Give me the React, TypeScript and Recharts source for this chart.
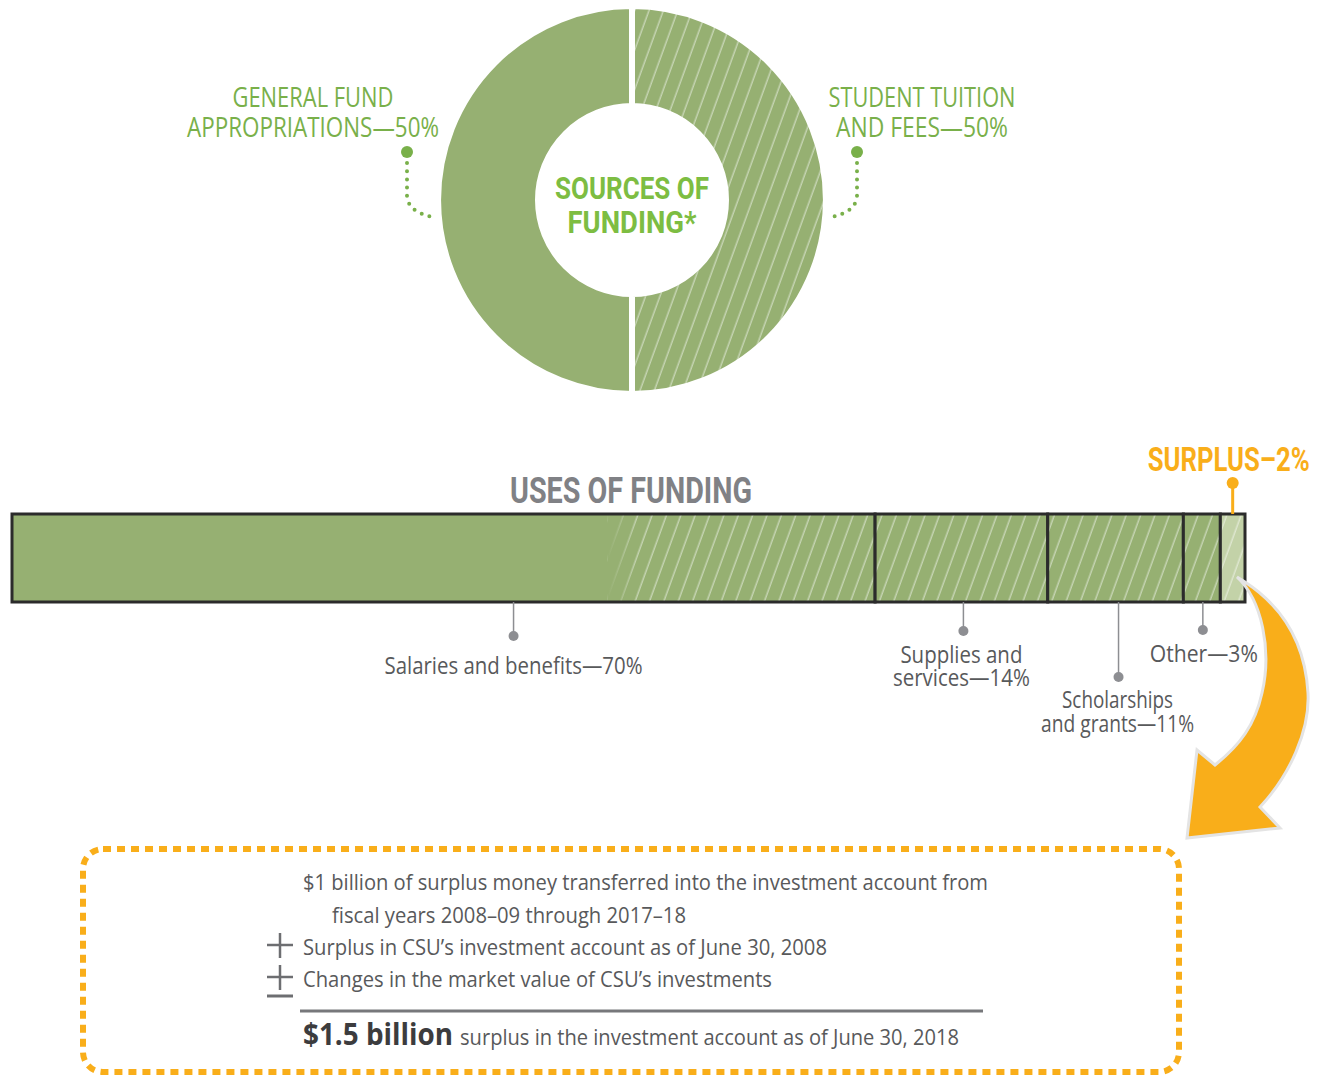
import React from 'react';
import { PieChart, Pie, Cell, BarChart, Bar, XAxis, YAxis, LabelList } from 'recharts';

// ---------- data ----------
const sourceNames = ['General Fund Appropriations', 'Student Tuition and Fees'];
const sourceValues = [50, 50];
const sourceLabelLines = [
  ['GENERAL FUND', 'APPROPRIATIONS'],
  ['STUDENT TUITION', 'AND FEES'],
];

const useNames = ['Salaries and benefits', 'Supplies and services', 'Scholarships and grants', 'Other', 'Surplus'];
const useValues = [70, 14, 11, 3, 2];
const useLabelLines = [
  ['Salaries and benefits'],
  ['Supplies and', 'services'],
  ['Scholarships', 'and grants'],
  ['Other'],
  ['SURPLUS'],
];

const boxLines = [
  '$1 billion of surplus money transferred into the investment account from',
  'fiscal years 2008–09 through 2017–18',
  'Surplus in CSU’s investment account as of June 30, 2008',
  'Changes in the market value of CSU’s investments',
];
const totalAmount = '$1.5 billion';
const totalText = 'surplus in the investment account as of June 30, 2018';

// ---------- styles ----------
const W = 1321;
const H = 1076;
const GREEN = '#96B072';
const LIGHT_GREEN = '#C3D2A8';
const LABEL_GREEN = '#79B04A';
const TITLE_GREEN = '#7DBD42';
const ORANGE = '#F9AE1A';
const DARK = '#2B2B2B';
const GRAY_TEXT = '#58595B';
const GRAY_LINE = '#8D8E92';
const LABEL_FONT = "'Open Sans', 'Noto Sans', sans-serif";
const HEAD_FONT = "Roboto, 'DejaVu Sans Condensed', sans-serif";

const pieData = sourceNames.map((name, i) => ({ name, value: sourceValues[i] }));
const barRow: Record<string, any> = { name: 'Uses of funding' };
useValues.forEach((v, i) => {
  barRow[`u${i}`] = v;
});
const barData = [barRow];

// label layout (positions relative to library-computed geometry)
const SRC_LAYOUT = [
  { tx: -319, widths: [161, 252], dotDx: -225, side: -1 },
  { tx: 290, widths: [187, 172], dotDx: 225, side: 1 },
];

const USE_LAYOUT = [
  { dx: 70, dot: 34, base: [72], widths: [258], tdx: 70, up: false },
  { dx: 2, dot: 29, base: [61, 84], widths: [122, 137], tdx: 0, up: false },
  { dx: 3, dot: 75, base: [106, 130], widths: [111, 153], tdx: 2, up: false },
  { dx: 1, dot: 28, base: [60], widths: [108], tdx: 2, up: false },
  { dx: 0, dot: -31, base: [-43], widths: [162], tdx: -4, up: true },
];

const renderSourceLabel = (p: any) => {
  const { cx, cy, index } = p;
  const L = SRC_LAYOUT[index];
  const lines = [...sourceLabelLines[index]];
  lines[lines.length - 1] = `${lines[lines.length - 1]}—${sourceValues[index]}%`;
  const dx = cx + L.dotDx;
  const dy = cy - 48;
  const s = L.side;
  return (
    <g key={`src-${index}`}>
      {lines.map((t, i) => (
        <text
          key={i}
          x={cx + L.tx}
          y={cy - 93 + i * 30}
          textAnchor="middle"
          fill={LABEL_GREEN}
          fontFamily={LABEL_FONT}
          fontSize={27}
          textLength={L.widths[i]}
          lengthAdjust="spacingAndGlyphs"
        >
          {t}
        </text>
      ))}
      <circle cx={dx} cy={dy} r={6} fill={LABEL_GREEN} />
      <path
        d={`M${dx},${dy + 11} L${dx},${dy + 45} Q${dx - s * 2},${dy + 60} ${dx - s * 25},${dy + 65}`}
        fill="none"
        stroke={LABEL_GREEN}
        strokeWidth={4}
        strokeLinecap="round"
        strokeDasharray="0 8.2"
      />
    </g>
  );
};

const makeUseLabel = (si: number) => (p: any) => {
  const vb = p.viewBox && p.viewBox.width != null ? p.viewBox : p;
  const x = Number(vb.x);
  const y = Number(vb.y);
  const width = Number(vb.width);
  const height = Number(vb.height);
  const L = USE_LAYOUT[si];
  const cx = x + width / 2;
  const lx = cx + L.dx;
  const lines = [...useLabelLines[si]];
  const sep = L.up ? '–' : '—';
  lines[lines.length - 1] = `${lines[lines.length - 1]}${sep}${useValues[si]}%`;
  if (L.up) {
    const top = y;
    return (
      <g>
        <line x1={lx} y1={top + L.dot} x2={lx} y2={top} stroke={ORANGE} strokeWidth={3} />
        <circle cx={lx} cy={top + L.dot} r={6} fill={ORANGE} />
        <text
          x={cx + L.tdx}
          y={top + L.base[0]}
          textAnchor="middle"
          fill={ORANGE}
          fontFamily={HEAD_FONT}
          fontWeight={700}
          fontSize={34}
          textLength={L.widths[0]}
          lengthAdjust="spacingAndGlyphs"
        >
          {lines[0]}
        </text>
      </g>
    );
  }
  const bottom = y + height;
  return (
    <g>
      <line x1={lx} y1={bottom} x2={lx} y2={bottom + L.dot} stroke={GRAY_LINE} strokeWidth={1.5} />
      <circle cx={lx} cy={bottom + L.dot} r={5} fill={GRAY_LINE} />
      {lines.map((t, i) => (
        <text
          key={i}
          x={cx + L.tdx}
          y={bottom + L.base[i]}
          textAnchor="middle"
          fill={GRAY_TEXT}
          fontFamily={LABEL_FONT}
          fontSize={23}
          textLength={L.widths[i]}
          lengthAdjust="spacingAndGlyphs"
        >
          {t}
        </text>
      ))}
    </g>
  );
};

const SalariesShape = (p: any) => {
  const { x, y, width, height } = p;
  const hs = x + width * 0.69;
  return (
    <g>
      <rect x={x} y={y} width={width} height={height} fill={GREEN} />
      <rect x={hs} y={y} width={x + width - hs} height={height} fill="url(#hatchG)" />
      <rect x={hs} y={y} width={30} height={height} fill="url(#fadeG)" />
      <rect x={x} y={y} width={width} height={height} fill="none" stroke={DARK} strokeWidth={3} />
    </g>
  );
};

const HatchShape = (light: boolean) => (p: any) => {
  const { x, y, width, height } = p;
  return (
    <g>
      <rect x={x} y={y} width={width} height={height} fill={light ? 'url(#hatchL)' : 'url(#hatchG)'} />
      <rect x={x} y={y} width={width} height={height} fill="none" stroke={DARK} strokeWidth={3} />
    </g>
  );
};

const Defs = () => (
  <defs>
    <pattern id="hatchG" patternUnits="userSpaceOnUse" width="13.5" height="13.5" patternTransform="rotate(20)">
      <rect width="13.5" height="13.5" fill={GREEN} />
      <line x1="6" y1="-1" x2="6" y2="15" stroke="#ffffff" strokeOpacity="0.48" strokeWidth="1.4" />
    </pattern>
    <pattern id="hatchL" patternUnits="userSpaceOnUse" width="13.5" height="13.5" patternTransform="rotate(20)">
      <rect width="13.5" height="13.5" fill={LIGHT_GREEN} />
      <line x1="6" y1="-1" x2="6" y2="15" stroke="#ffffff" strokeOpacity="0.48" strokeWidth="1.4" />
    </pattern>
    <linearGradient id="fadeG" x1="0" y1="0" x2="1" y2="0">
      <stop offset="0" stopColor={GREEN} stopOpacity="1" />
      <stop offset="1" stopColor={GREEN} stopOpacity="0" />
    </linearGradient>
  </defs>
);

const Overlay = () => (
  <svg width={W} height={H} style={{ position: 'absolute', left: 0, top: 0, pointerEvents: 'none' }}>
    {/* center title of donut */}
    <text x={632} y={199} textAnchor="middle" fill={TITLE_GREEN} fontFamily={HEAD_FONT} fontWeight={700} fontSize={31} textLength={154} lengthAdjust="spacingAndGlyphs">
      SOURCES OF
    </text>
    <text x={632} y={233} textAnchor="middle" fill={TITLE_GREEN} fontFamily={HEAD_FONT} fontWeight={700} fontSize={31} textLength={129} lengthAdjust="spacingAndGlyphs">
      FUNDING*
    </text>
    {/* uses title */}
    <text x={631} y={503} textAnchor="middle" fill="#808185" fontFamily={HEAD_FONT} fontWeight={700} fontSize={36} textLength={242} lengthAdjust="spacingAndGlyphs">
      USES OF FUNDING
    </text>
    {/* orange arrow */}
    <path
      d="M1237,577 C1262,600 1272,650 1262,693 C1255,725 1240,745 1215,765 L1197,750 L1187,838 L1280,828 L1260,807 C1290,775 1310,730 1308,693 C1305,640 1280,605 1245,582 Z"
      fill={ORANGE}
      stroke="#E4E4E4"
      strokeWidth={3}
      strokeLinejoin="miter"
    />
    {/* dashed box */}
    <rect x={83} y={849} width={1096} height={223} rx={20} ry={20} fill="none" stroke={ORANGE} strokeWidth={6} strokeDasharray="8 6" />
    <text x={303} y={890} fill={GRAY_TEXT} fontFamily={LABEL_FONT} fontSize={21} textLength={685} lengthAdjust="spacingAndGlyphs">
      {boxLines[0]}
    </text>
    <text x={332} y={923} fill={GRAY_TEXT} fontFamily={LABEL_FONT} fontSize={21} textLength={354} lengthAdjust="spacingAndGlyphs">
      {boxLines[1]}
    </text>
    <text x={303} y={955} fill={GRAY_TEXT} fontFamily={LABEL_FONT} fontSize={21} textLength={524} lengthAdjust="spacingAndGlyphs">
      {boxLines[2]}
    </text>
    <text x={303} y={987} fill={GRAY_TEXT} fontFamily={LABEL_FONT} fontSize={21} textLength={469} lengthAdjust="spacingAndGlyphs">
      {boxLines[3]}
    </text>
    {/* plus and plus-minus */}
    <g stroke="#6D6E71" strokeWidth={2.5}>
      <line x1={267} y1={945} x2={293} y2={945} />
      <line x1={280} y1={933} x2={280} y2={958} />
      <line x1={267} y1={977} x2={293} y2={977} />
      <line x1={280} y1={965} x2={280} y2={990} />
      <line x1={267} y1={996} x2={293} y2={996} strokeWidth={3} />
    </g>
    <line x1={300} y1={1011} x2={983} y2={1011} stroke="#77787B" strokeWidth={3} />
    <text x={303} y={1045} fill="#3C3C3E" fontFamily={LABEL_FONT} fontWeight={700} fontSize={30} textLength={150} lengthAdjust="spacingAndGlyphs">
      {totalAmount}
    </text>
    <text x={460} y={1045} fill={GRAY_TEXT} fontFamily={LABEL_FONT} fontSize={21} textLength={499} lengthAdjust="spacingAndGlyphs">
      {totalText}
    </text>
  </svg>
);

export default function App() {
  const shapes = [SalariesShape, HatchShape(false), HatchShape(false), HatchShape(false), HatchShape(true)];
  return (
    <div style={{ position: 'absolute', left: 0, top: 0, width: W, height: H, background: '#ffffff', overflow: 'hidden' }}>
      <svg width={0} height={0} style={{ position: 'absolute' }}>
        <Defs />
      </svg>
      <div style={{ position: 'absolute', left: 0, top: 0 }}>
        <PieChart width={W} height={420} margin={{ top: 0, right: 0, bottom: 0, left: 0 }}>
          <Pie
            data={pieData}
            dataKey="value"
            nameKey="name"
            cx={632}
            cy={200}
            outerRadius={194}
            innerRadius={94}
            startAngle={90}
            endAngle={450}
            stroke="#ffffff"
            strokeWidth={6}
            label={renderSourceLabel}
            labelLine={false}
            isAnimationActive={false}
          >
            {pieData.map((d, i) => (
              <Cell key={d.name} fill={i === 0 ? GREEN : 'url(#hatchG)'} stroke="#ffffff" strokeWidth={6} />
            ))}
          </Pie>
        </PieChart>
      </div>
      <div style={{ position: 'absolute', left: 0, top: 0 }}>
        <BarChart
          width={W}
          height={H}
          data={barData}
          layout="vertical"
          margin={{ top: 514, bottom: 474, left: 12, right: 76 }}
          barCategoryGap={0}
        >
          <XAxis type="number" domain={[0, 100]} hide />
          <YAxis type="category" dataKey="name" hide />
          {useNames.map((n, i) => (
            <Bar
              key={n}
              name={n}
              dataKey={`u${i}`}
              stackId="uses"
              fill={GREEN}
              shape={shapes[i]}
              isAnimationActive={false}
            >
              <LabelList dataKey={`u${i}`} content={makeUseLabel(i)} />
            </Bar>
          ))}
        </BarChart>
      </div>
      <Overlay />
    </div>
  );
}
